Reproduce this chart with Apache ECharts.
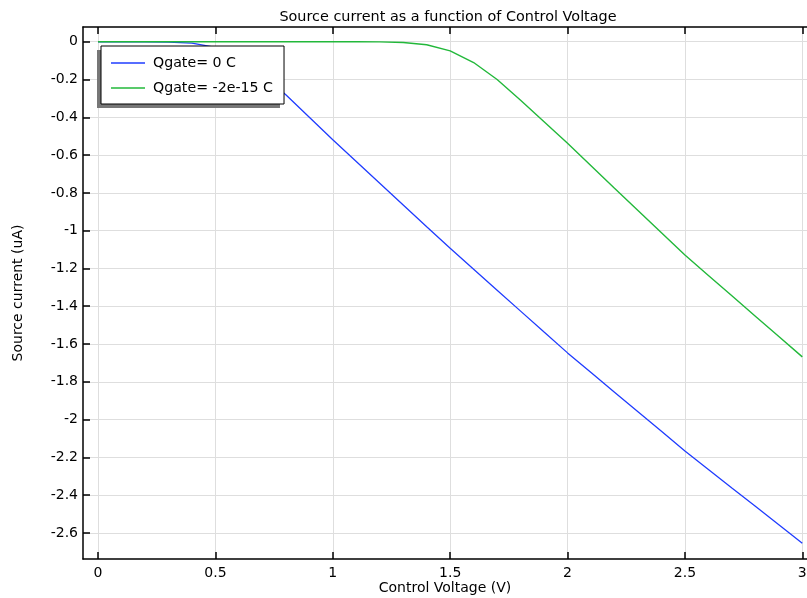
<!DOCTYPE html>
<html>
<head>
<meta charset="utf-8">
<script src="https://cdn.jsdelivr.net/npm/echarts@6/dist/echarts.min.js"></script>
<style>
  html, body { margin: 0; padding: 0; background: #fff; }
  #chart { width: 807px; height: 598px; }
</style>
</head>
<body>
<div id="chart"></div>
<script>
// control voltage (V), 0.1 V steps
var voltage = [0, 0.1, 0.2, 0.3, 0.4, 0.5, 0.6, 0.7, 0.8, 0.9, 1.0,
               1.1, 1.2, 1.3, 1.4, 1.5, 1.6, 1.7, 1.8, 1.9, 2.0,
               2.1, 2.2, 2.3, 2.4, 2.5, 2.6, 2.7, 2.8, 2.9, 3.0];

// source current (uA), Qgate = 0 C
var currentQ0 = [0, 0, -0.0005, -0.002, -0.007, -0.03, -0.085, -0.175, -0.281, -0.40, -0.519,
                 -0.634, -0.749, -0.864, -0.979, -1.093, -1.204, -1.315, -1.426, -1.537, -1.647,
                 -1.751, -1.855, -1.958, -2.062, -2.166, -2.264, -2.362, -2.459, -2.557, -2.655];

// source current (uA), Qgate = -2e-15 C
var currentQ2 = [0, 0, 0, 0, 0, 0, 0, 0, 0, 0, 0,
                 -0.0003, -0.001, -0.004, -0.016, -0.048, -0.11, -0.2, -0.31, -0.423, -0.537,
                 -0.656, -0.775, -0.893, -1.011, -1.129, -1.237, -1.345, -1.453, -1.56, -1.668];

var xTicks = [0, 0.5, 1, 1.5, 2, 2.5, 3];
var yTicks = [0, -0.2, -0.4, -0.6, -0.8, -1, -1.2, -1.4, -1.6, -1.8, -2, -2.2, -2.4, -2.6];

var seriesNames = ['Qgate= 0 C', 'Qgate= -2e-15 C'];

function pairs(ys) {
  return voltage.map(function (v, i) { return [v, ys[i]]; });
}

var font = 'DejaVu Sans';
var fs = 14;
var chart = echarts.init(document.getElementById('chart'));

var xCommon = {
  type: 'value',
  min: -0.064,
  max: 3.02,
  axisLine: { show: true, onZero: false, lineStyle: { color: '#000', width: 1.5 } },
  axisTick: { show: true, inside: true, length: 7, customValues: xTicks, lineStyle: { color: '#000', width: 1.5 } },
  splitLine: { show: false }
};

chart.setOption({
  animation: false,
  backgroundColor: '#fff',
  title: {
    text: 'Source current as a function of Control Voltage',
    left: 443,
    textAlign: 'center',
    top: 5,
    textStyle: { fontFamily: font, fontSize: 14.4, fontWeight: 'normal', color: '#000' }
  },
  grid: { left: 83, top: 27, right: 0, bottom: 39, outerBoundsMode: 'none', containLabel: false },
  // legend drop shadow (offset down-left)
  graphic: [{
    type: 'rect',
    z: 8,
    shape: { x: 97, y: 50, width: 183, height: 58 },
    style: { fill: '#777' }
  }],
  legend: {
    z: 10,
    orient: 'vertical',
    left: 101,
    top: 46,
    padding: [10, 11, 9, 10],
    itemWidth: 34,
    itemHeight: 1.5,
    itemGap: 11,
    icon: 'rect',
    backgroundColor: '#fff',
    borderColor: '#000',
    borderWidth: 1,
    borderRadius: 0,
    textStyle: { fontFamily: font, fontSize: 14.2, color: '#000', padding: [0, 0, 0, 3] },
    data: seriesNames
  },
  xAxis: [
    Object.assign({}, xCommon, {
      position: 'bottom',
      name: 'Control Voltage (V)',
      nameLocation: 'middle',
      nameGap: 22,
      nameMoveOverlap: false,
      nameTextStyle: { fontFamily: font, fontSize: fs, color: '#000' },
      axisLabel: {
        customValues: xTicks,
        margin: 7,
        fontFamily: font, fontSize: fs, color: '#000',
        formatter: function (v) { return String(v); }
      },
      splitLine: { show: true, lineStyle: { color: '#dedede', width: 1 } }
    }),
    Object.assign({}, xCommon, {
      position: 'top',
      axisLabel: { show: false }
    })
  ],
  yAxis: {
    type: 'value',
    min: -2.738,
    max: 0.078,
    name: 'Source current (uA)',
    nameLocation: 'middle',
    nameRotate: 90,
    nameGap: 58,
    nameTextStyle: { fontFamily: font, fontSize: fs, color: '#000' },
    axisLine: { show: true, onZero: false, lineStyle: { color: '#000', width: 1.5 } },
    axisTick: { show: true, inside: true, length: 7, customValues: yTicks, lineStyle: { color: '#000', width: 1.5 } },
    axisLabel: {
      customValues: yTicks,
      margin: 5,
      fontFamily: font, fontSize: fs, color: '#000',
      formatter: function (v) { return String(parseFloat(v.toFixed(1))); }
    },
    splitLine: { show: true, lineStyle: { color: '#dedede', width: 1 } }
  },
  series: [
    {
      name: seriesNames[0],
      type: 'line',
      data: pairs(currentQ0),
      symbol: 'none',
      lineStyle: { color: '#1f3cff', width: 1.3 },
      itemStyle: { color: '#1f3cff' }
    },
    {
      name: seriesNames[1],
      type: 'line',
      data: pairs(currentQ2),
      symbol: 'none',
      lineStyle: { color: '#22b83a', width: 1.4 },
      itemStyle: { color: '#22b83a' }
    }
  ]
});
</script>
</body>
</html>
